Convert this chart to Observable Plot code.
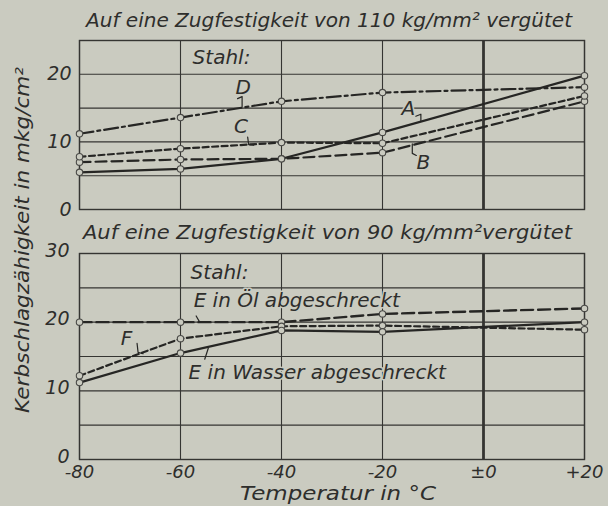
<!DOCTYPE html>
<html><head><meta charset="utf-8">
<script src="https://cdn.jsdelivr.net/npm/d3@7"></script>
<script src="https://cdn.jsdelivr.net/npm/@observablehq/plot@0.6"></script>
<style>
body{margin:0;background:#cacbc0;}
#wrap{position:relative;width:608px;height:506px;background:#cacbc0;overflow:hidden}
#wrap > div, #wrap > svg{position:absolute;left:0}
</style></head><body><div id="wrap"></div>
<script>
// ---- data ----
const temps = [-80, -60, -40, -20, 20];
const stahlA = [5.5, 6.0, 7.5, 11.4, 19.8];
const stahlB = [7.0, 7.4, 7.5, 8.4, 16.0];
const stahlC = [7.8, 9.0, 9.9, 9.8, 16.8];
const stahlD = [11.2, 13.6, 16.0, 17.3, 18.1];
const stahlEOel = [20.0, 20.0, 20.0, 21.2, 22.0];
const stahlEWasser = [11.2, 15.5, 18.8, 18.6, 20.0];
const stahlF = [12.2, 17.6, 19.4, 19.5, 18.9];

const xGrid = [-80, -60, -40, -20, 0, 20];
const xTickLabels = ["-80", "-60", "-40", "-20", "±0", "+20"];
const yGridTop = [0, 5, 10, 15, 20, 25];
const yTicksTop = [0, 10, 20];
const yGridBottom = [0, 5, 10, 15, 20, 25, 30];
const yTicksBottom = [0, 10, 20, 30];

const titleTop = "Auf eine Zugfestigkeit  von  110 kg/mm² vergütet";
const titleBottom = "Auf eine Zugfestigkeit von  90 kg/mm²vergütet";
const yTitle = "Kerbschlagzähigkeit in mkg/cm²";
const xTitle = "Temperatur in °C";

// annotation labels (data coordinates)
const labelsTop = [
  {t: -57.6, v: 22.5, text: "Stahl:", anchor: "start"},
  {t: -47.6, v: 18.1, text: "D", anchor: "middle"},
  {t: -48.0, v: 12.2, text: "C", anchor: "middle"},
  {t: -14.9, v: 14.9, text: "A", anchor: "middle"},
  {t: -11.9, v: 7.0, text: "B", anchor: "middle"}
];
const leadersTop = [
  {id: "D", pts: [[-48.7, 16.4], [-47.8, 16.7], [-47.8, 15.2]]},
  {id: "C", pts: [[-46.7, 10.7], [-46.5, 9.6], [-45.5, 9.5]]},
  {id: "A", pts: [[-13.4, 13.8], [-12.4, 14.1], [-12.4, 13.1]]},
  {id: "B", pts: [[-14.1, 9.7], [-14.1, 8.3], [-13.3, 8.0]]}
];
const labelsBottom = [
  {t: -58.0, v: 27.2, text: "Stahl:", anchor: "start"},
  {t: -57.4, v: 23.1, text: "E in Öl abgeschreckt", anchor: "start"},
  {t: -58.4, v: 12.7, text: "E in Wasser abgeschreckt", anchor: "start"},
  {t: -70.7, v: 17.6, text: "F", anchor: "middle"}
];
const leadersBottom = [
  {id: "Oel", pts: [[-56.9, 20.9], [-56.2, 20.0]]},
  {id: "Wasser", pts: [[-54.5, 16.2], [-55.2, 14.6]]},
  {id: "F", pts: [[-68.6, 16.9], [-68.4, 15.6], [-67.4, 15.4]]}
];

// ---- styles ----
const BG = "#cacbc0";
const INK = "#262624";
const GRID = "#353532";
const FONT = "'DejaVu Sans', sans-serif";

const rows = (vals) => temps.map((t, i) => ({t, v: vals[i]}));
const leaderRows = (ls) => ls.flatMap(l => l.pts.map(p => ({id: l.id, t: p[0], v: p[1]})));

function seriesMarks(vals, dash, width) {
  const r = rows(vals);
  return [
    Plot.line(r, {x: "t", y: "v", stroke: INK, strokeWidth: width, strokeDasharray: dash}),
    Plot.dot(r, {x: "t", y: "v", r: 3.2, fill: BG, stroke: "#4a4a47", strokeWidth: 1.1})
  ];
}

function gridMarks(yGrid) {
  return [
    Plot.ruleY(yGrid, {stroke: GRID, strokeWidth: 1.1, strokeOpacity: 1}),
    Plot.ruleX(xGrid, {stroke: GRID, strokeWidth: d => d === 0 ? 2.8 : 1.1, strokeOpacity: 1}),
    Plot.frame({stroke: GRID, strokeWidth: 1.4})
  ];
}

function textMarks(labels, leaders) {
  const opts = (anchor) => ({x: "t", y: "v", text: "text", textAnchor: anchor, fill: "#2e2e2c", fontSize: 20, fontStyle: "italic", stroke: BG, strokeWidth: 3, paintOrder: "stroke"});
  return [
    Plot.text(labels.filter(d => d.anchor === "start"), opts("start")),
    Plot.text(labels.filter(d => d.anchor === "middle"), opts("middle")),
    Plot.line(leaderRows(leaders), {x: "t", y: "v", z: "id", stroke: INK, strokeWidth: 1.2})
  ];
}

const commonStyle = {background: "transparent", color: "#2e2e2c", fontFamily: FONT, fontSize: "19px", fontStyle: "italic", overflow: "visible"};

const panelTop = Plot.plot({
  width: 608, height: 225,
  marginLeft: 79, marginRight: 24, marginTop: 40, marginBottom: 16,
  x: {domain: [-80, 20], axis: null},
  y: {domain: [0, 25]},
  style: commonStyle,
  marks: [
    ...gridMarks(yGridTop),
    ...seriesMarks(stahlD, "14,4,3,4", 2.2),
    ...seriesMarks(stahlB, "11,5", 2.2),
    ...seriesMarks(stahlC, "6,3.5", 2.2),
    ...seriesMarks(stahlA, null, 2.2),
    ...textMarks(labelsTop, leadersTop),
    Plot.axisY(yTicksTop, {tickSize: 0, tickPadding: 8, fontSize: 19, fontStyle: "italic", label: null})
  ]
});

const panelBottom = Plot.plot({
  width: 608, height: 281,
  marginLeft: 79, marginRight: 24, marginTop: 28, marginBottom: 47,
  x: {domain: [-80, 20]},
  y: {domain: [0, 30]},
  style: commonStyle,
  marks: [
    ...gridMarks(yGridBottom),
    ...seriesMarks(stahlEOel, "12,5", 2.4),
    ...seriesMarks(stahlF, "6,3.5", 2.2),
    ...seriesMarks(stahlEWasser, null, 2.2),
    ...textMarks(labelsBottom, leadersBottom),
    Plot.axisY(yTicksBottom, {tickSize: 0, tickPadding: 10, dy: -3, fontSize: 19, fontStyle: "italic", label: null}),
    Plot.axisX(xGrid, {tickSize: 0, tickPadding: 6, fontSize: 18, fontStyle: "italic", label: null,
      tickFormat: d => xTickLabels[xGrid.indexOf(d)]})
  ]
});

const wrap = document.getElementById("wrap");
panelTop.style.top = "0px";
panelBottom.style.top = "225px";
wrap.appendChild(panelTop);
wrap.appendChild(panelBottom);

// overlay titles
const ov = d3.select(wrap).append("svg")
  .attr("width", 608).attr("height", 506)
  .style("top", "0px").style("pointer-events", "none")
  .attr("font-family", FONT).attr("font-style", "italic").attr("fill", "#2e2e2c");
ov.append("text").attr("x", 86).attr("y", 27).attr("font-size", 20)
  .attr("textLength", 486).attr("lengthAdjust", "spacingAndGlyphs").text(titleTop);
ov.append("text").attr("x", 83).attr("y", 239).attr("font-size", 20)
  .attr("textLength", 489).attr("lengthAdjust", "spacingAndGlyphs").text(titleBottom);
ov.append("text").attr("x", 338).attr("y", 500).attr("font-size", 19).attr("text-anchor", "middle")
  .attr("textLength", 196).attr("lengthAdjust", "spacingAndGlyphs").text(xTitle);
ov.append("text").attr("transform", "translate(29,240) rotate(-90)").attr("font-size", 19)
  .attr("text-anchor", "middle").attr("textLength", 346).attr("lengthAdjust", "spacingAndGlyphs").text(yTitle);
</script></body></html>
